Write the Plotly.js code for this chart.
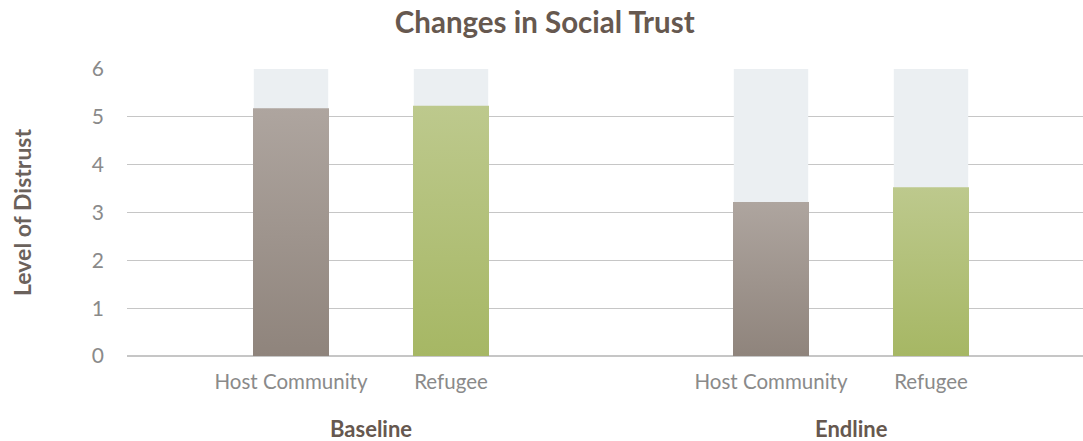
<!DOCTYPE html>
<html>
<head>
<meta charset="utf-8">
<script src="https://cdn.plot.ly/plotly-3.0.1.min.js"></script>
<style>html,body{margin:0;padding:0;background:#fff;}#chart{width:1083px;height:441px;}</style>
</head>
<body>
<div id="chart"></div>
<script>
// ---- data ----
const groups = ['Baseline', 'Endline'];
const seriesNames = ['Host Community', 'Refugee'];
const hostValues = [5.18, 3.22];
const refugeeValues = [5.23, 3.53];
const scaleMax = 6;
const yTicks = [0, 1, 2, 3, 4, 5, 6];

// ---- layout / style ----
const slotStep = 1;      // distance between bars in a group
const groupStep = 3;     // distance between groups
const firstPos = 1;
const barW = 0.475;
const bgW = 0.465;
const FONT = 'Lato, "Source Sans Pro", sans-serif';
const styles = [
  {name: 'Host Community', bottom: '#8f847c', top: '#aea59f'},
  {name: 'Refugee', bottom: '#a6b764', top: '#bdc98d'}
];
const seriesValues = [hostValues, refugeeValues];

const traces = [];
const tickvals = [], ticktext = [];
// background bars (full scale)
const bgX = [], bgY = [];
groups.forEach((g, gi) => {
  seriesNames.forEach((s, si) => {
    const pos = firstPos + gi * groupStep + si * slotStep;
    bgX.push(pos); bgY.push(scaleMax);
    tickvals.push(pos); ticktext.push(s);
  });
});
traces.push({
  type: 'bar', x: bgX, y: bgY, width: bgW,
  marker: {color: '#ebeff2', line: {width: 0}},
  hoverinfo: 'skip', showlegend: false
});
// gradient value bars drawn as filled polygons
seriesValues.forEach((vals, si) => {
  vals.forEach((v, gi) => {
    const pos = firstPos + gi * groupStep + si * slotStep;
    traces.push({
      type: 'scatter', mode: 'lines',
      x: [pos - barW / 2, pos + barW / 2, pos + barW / 2, pos - barW / 2, pos - barW / 2],
      y: [0, 0, v, v, 0],
      fill: 'toself',
      line: {width: 0, color: 'rgba(0,0,0,0)'},
      fillgradient: {type: 'vertical', colorscale: [[0, styles[si].bottom], [1, styles[si].top]]},
      fillcolor: styles[si].top,
      name: styles[si].name, showlegend: false,
      hovertemplate: seriesNames[si] + ' (' + groups[gi] + '): %{text}<extra></extra>',
      text: Array(5).fill(v.toFixed(2))
    });
  });
});

const groupAnnotations = groups.map((g, gi) => ({
  x: firstPos + gi * groupStep + slotStep / 2,
  xref: 'x', y: 0, yref: 'paper', yanchor: 'middle', yshift: -72,
  text: '<b>' + g + '</b>', showarrow: false,
  font: {family: FONT, size: 22, color: '#66584f'}
}));

const layout = {
  width: 1083, height: 441,
  margin: {l: 127, r: 0, t: 69, b: 85},
  paper_bgcolor: '#ffffff', plot_bgcolor: '#ffffff',
  barmode: 'overlay',
  showlegend: false,
  title: {
    text: '<b>Changes in Social Trust</b>',
    x: 0.503, xref: 'container', xanchor: 'center', y: 0.948, yanchor: 'middle', yref: 'container',
    font: {family: FONT, size: 29.5, color: '#66584f'}
  },
  xaxis: {
    range: [-0.025, 5.95], tickvals: tickvals, ticktext: ticktext,
    showgrid: false, zeroline: false, showline: false, ticks: '',
    ticklabelstandoff: 11,
    tickfont: {family: FONT, size: 20.5, color: '#8a8a8a'},
    fixedrange: true
  },
  yaxis: {
    range: [0, scaleMax], tickvals: yTicks, ticktext: yTicks.map(String),
    showgrid: true, gridcolor: '#c6c6c6', gridwidth: 1.3,
    zeroline: true, zerolinecolor: '#c6c6c6', zerolinewidth: 1.3,
    showline: false, ticks: '', ticklabelstandoff: 22,
    tickfont: {family: FONT, size: 21, color: '#8a8a8a'},
    title: {text: '<b>Level of Distrust</b>', standoff: 53,
      font: {family: FONT, size: 23, color: '#6b625c'}},
    fixedrange: true
  },
  annotations: groupAnnotations
};

Plotly.newPlot('chart', traces, layout, {displayModeBar: false, staticPlot: true});
</script>
</body>
</html>
